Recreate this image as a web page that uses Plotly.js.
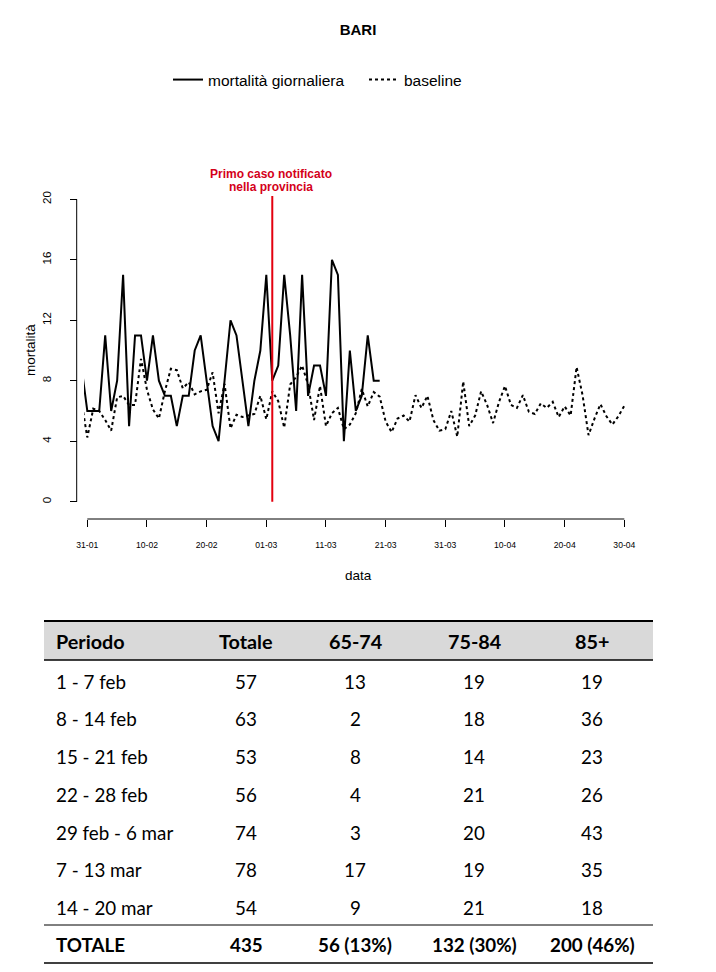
<!DOCTYPE html>
<html><head><meta charset="utf-8">
<script src="https://cdn.plot.ly/plotly-3.0.1.min.js"></script>
<style>body{margin:0;background:#fff}</style>
</head><body>
<div id="chart" style="width:716px;height:972px"></div>
<script>
// ---------- DATA ----------
const firstDay = [2020, 0, 30]; // first plotted day (series start, partly hidden at the left edge)
const mortalitaGiornaliera = [9,
  6,6,6,11,6,8,15,5,11,11,8,11,8,7,7,5,7,7,10,11,8,5,4,8,12,11,8,5,8,10,
  15,8,9,15,11,6,15,7,9,9,7,16,15,4,10,6,7,11,8,8];
const baseline = [6.7,
  4.25,6.15,6.0,5.4,4.7,6.9,7.0,6.4,6.4,9.45,7.4,6.1,5.5,7.3,8.8,8.7,7.5,7.9,7.1,7.3,
  7.4,8.55,5.85,7.8,4.85,5.75,5.6,5.7,5.8,7.0,5.45,7.3,6.65,4.9,7.75,8.25,9.0,7.75,5.4,7.65,
  5.0,5.85,6.2,4.8,5.1,5.85,7.45,6.3,7.25,6.95,5.3,4.6,5.5,5.7,5.3,7.05,6.2,7.0,5.4,4.7,
  4.8,6.0,4.3,7.95,5.0,5.7,7.3,6.4,5.2,6.6,7.65,6.4,6.2,7.05,5.95,5.8,6.5,6.2,6.6,5.6,
  6.3,5.7,8.9,7.05,4.4,5.5,6.45,5.65,5.1,5.65,6.35];
const tickDates = ['2020-01-31','2020-02-10','2020-02-20','2020-03-01','2020-03-11',
  '2020-03-21','2020-03-31','2020-04-10','2020-04-20','2020-04-30'];
const tickLabels = ['31-01','10-02','20-02','01-03','11-03','21-03','31-03','10-04','20-04','30-04'];
const yTicks = [0,4,8,12,16,20];
const primoCaso = '2020-03-02';

const tableHeader = ['Periodo','Totale','65-74','75-84','85+'];
const periodi = ['1 - 7 feb','8 - 14 feb','15 - 21 feb','22 - 28 feb','29 feb - 6 mar','7 - 13 mar','14 - 20 mar'];
const totale = [57,63,53,56,74,78,54];
const eta6574 = [13,2,8,4,3,17,9];
const eta7584 = [19,18,14,21,20,19,21];
const eta85 = [19,36,23,26,43,35,18];
const rigaTotale = ['TOTALE','435','56 (13%)','132 (30%)','200 (46%)'];

// ---------- GEOMETRY ----------
const W = 716, H = 972;
const px = x => x / W, py = y => 1 - y / H;
const DAY = 86400000;
const iso = ms => new Date(ms).toISOString().slice(0,19).replace('T',' ');
const t0 = Date.UTC(firstDay[0], firstDay[1], firstDay[2]);
const datesM = mortalitaGiornaliera.map((_, i) => iso(t0 + i*DAY));
const datesB = baseline.map((_, i) => iso(t0 + i*DAY));
const tick0ms = Date.UTC(2020,0,31), tick0px = 87.3, pxPerDay = 5.967;
const xAt = p => iso(tick0ms + (p - tick0px)/pxPerDay*DAY);
const zeroPx = 501.7, pxPerUnit = 15.12;
const yAt = p => (zeroPx - p)/pxPerUnit;
const AX_Y = 519, AX_X = 76.7, PLOT_TOP = 180;

const FONT = 'Liberation Sans, Arial, sans-serif';
const TFONT = 'Lato, Carlito, sans-serif';

const traces = [
  {x: datesM, y: mortalitaGiornaliera, type:'scatter', mode:'lines', name:'mortalità giornaliera',
   line:{color:'#000', width:2}, legend:'legend', hoverinfo:'skip'},
  {x: datesB, y: baseline, type:'scatter', mode:'lines', name:'baseline',
   line:{color:'#000', width:2, dash:'3px,3px'}, legend:'legend2', hoverinfo:'skip'}
];

const shapes = [
  {type:'line', xref:'x', yref:'paper', x0:tickDates[0], x1:tickDates[tickDates.length-1],
   y0:py(AX_Y), y1:py(AX_Y), line:{color:'#000', width:1}},
  {type:'line', xref:'paper', yref:'y', x0:px(AX_X), x1:px(AX_X), y0:yTicks[0], y1:yTicks[yTicks.length-1],
   line:{color:'#000', width:1}},
  {type:'line', xref:'x', yref:'y', x0:primoCaso, x1:primoCaso, y0:0, y1:yAt(196),
   line:{color:'#e3000f', width:2}}
];

const annotations = [
  {text:'<b>Primo caso notificato</b>', xref:'paper', yref:'paper', x:px(271), y:py(174),
   showarrow:false, font:{family:FONT, size:12, color:'#d4001a'}, xanchor:'center', yanchor:'middle'},
  {text:'<b>nella provincia</b>', xref:'paper', yref:'paper', x:px(271), y:py(187),
   showarrow:false, font:{family:FONT, size:12, color:'#d4001a'}, xanchor:'center', yanchor:'middle'},
  {text:'mortalità', xref:'paper', yref:'paper', x:px(30), y:py(350), textangle:-90,
   showarrow:false, font:{family:FONT, size:13.5, color:'#000'}, xanchor:'center', yanchor:'middle'},
  {text:'data', xref:'paper', yref:'paper', x:px(358), y:py(575),
   showarrow:false, font:{family:FONT, size:13.5, color:'#000'}, xanchor:'center', yanchor:'middle'}
];

// ---------- TABLE ----------
const TL = 44, TR = 653;
const colX = [54, 246, 355, 474, 592];
const headerY = 641;
const rowY = [681, 718, 756, 794, 832, 869, 907];
const totY = 944;
const RSIZE = 18.8, HSIZE = 19.8;
shapes.push({type:'rect', xref:'paper', yref:'paper', x0:px(TL), x1:px(TR), y0:py(622), y1:py(660),
  fillcolor:'#d9d9d9', line:{width:0}, layer:'below'});
[[621,2],[660,1.3],[925,1],[963,1.3]].forEach(([y,w]) => shapes.push({type:'line', xref:'paper', yref:'paper',
  x0:px(TL), x1:px(TR), y0:py(y), y1:py(y), line:{color:'#000', width:w}}));
function cell(text, col, y, bold, size){
  annotations.push({text: bold ? '<b>'+text+'</b>' : String(text), xref:'paper', yref:'paper',
    x:px(colX[col]), y:py(y), xanchor: col === 0 ? 'left' : 'center', yanchor:'middle',
    showarrow:false, font:{family:TFONT, size:size, color:'#000'}});
}
tableHeader.forEach((t,c) => cell(t, c, headerY, true, HSIZE));
periodi.forEach((p,r) => {
  [p, totale[r], eta6574[r], eta7584[r], eta85[r]].forEach((v,c) => cell(v, c, rowY[r], false, RSIZE));
});
rigaTotale.forEach((t,c) => cell(t, c, totY, true, RSIZE));

const layout = {
  width:W, height:H, margin:{l:0,r:0,t:0,b:0}, paper_bgcolor:'#fff', plot_bgcolor:'rgba(0,0,0,0)',
  title:{text:'<b>BARI</b>', x:0.5, xanchor:'center', y:py(30), yanchor:'middle',
    font:{family:FONT, size:15, color:'#000'}},
  showlegend:true,
  legend:{x:px(168), y:py(80), xanchor:'left', yanchor:'middle', orientation:'h',
    font:{family:FONT, size:15.5, color:'#000'}, bgcolor:'rgba(0,0,0,0)', borderwidth:0},
  legend2:{x:px(364), y:py(80), xanchor:'left', yanchor:'middle', orientation:'h',
    font:{family:FONT, size:15.5, color:'#000'}, bgcolor:'rgba(0,0,0,0)', borderwidth:0},
  xaxis:{type:'date', domain:[px(84), px(640)], range:[xAt(84), xAt(640)], anchor:'free', position:py(AX_Y),
    showline:false, showgrid:false, zeroline:false, ticks:'outside', ticklen:7, tickwidth:1, tickcolor:'#000',
    tickmode:'array', tickvals:tickDates, ticktext:tickLabels, tickangle:0, ticklabelstandoff:11,
    tickfont:{family:FONT, size:8.6, color:'#000'}, fixedrange:true},
  yaxis:{domain:[py(AX_Y), py(PLOT_TOP)], range:[yAt(AX_Y), yAt(PLOT_TOP)], anchor:'free', position:px(AX_X),
    showline:false, showgrid:false, zeroline:false, ticks:'outside', ticklen:7, tickwidth:1, tickcolor:'#000',
    tickmode:'array', tickvals:yTicks, tickangle:-90, ticklabelstandoff:14,
    tickfont:{family:FONT, size:11.5, color:'#000'}, fixedrange:true},
  shapes, annotations
};
Plotly.newPlot('chart', traces, layout, {staticPlot:true, displayModeBar:false});
</script>
</body></html>
